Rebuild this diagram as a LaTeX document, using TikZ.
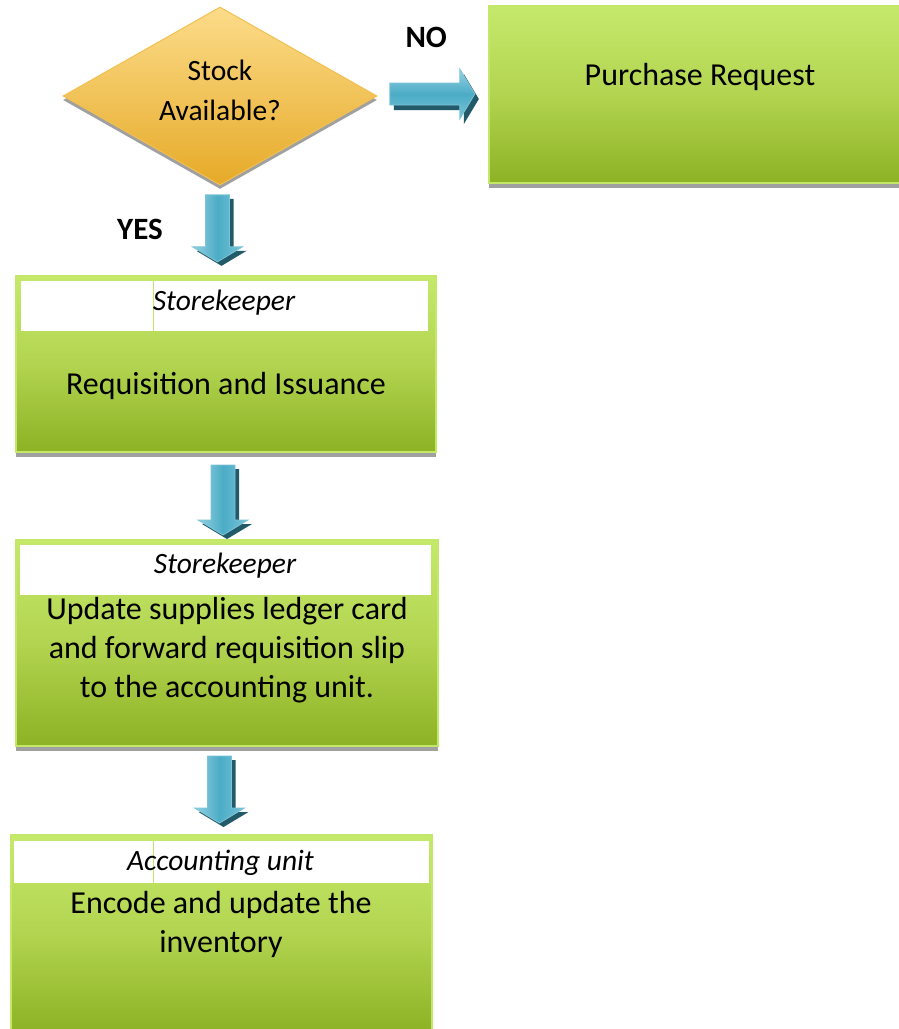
\documentclass[tikz,border=0pt]{standalone}
\usepackage{fontspec}
\setmainfont{Carlito}
\usetikzlibrary{shapes.geometric,shadows,calc}

\definecolor{greentop}{RGB}{197,233,107}
\definecolor{greenmid}{RGB}{178,212,80}
\definecolor{greenbot}{RGB}{141,178,36}
\definecolor{greenedge}{RGB}{195,232,105}
\definecolor{boxshadow}{RGB}{160,160,160}
\definecolor{goldtop}{RGB}{252,220,138}
\definecolor{goldbot}{RGB}{230,170,40}
\definecolor{goldedge}{RGB}{242,192,80}
\definecolor{teallight}{RGB}{150,210,226}
\definecolor{tealmid}{RGB}{75,172,198}
\definecolor{tealedge}{RGB}{125,196,216}
\definecolor{tealshadow}{RGB}{35,90,105}

\tikzset{
  procbox/.style={rectangle, draw=greenedge, line width=1.5pt,
    top color=greentop, bottom color=greenbot, middle color=greenmid,
    inner sep=0pt,
    drop shadow={shadow xshift=0pt, shadow yshift=-5pt, fill=boxshadow, opacity=1}},
  roleband/.style={rectangle, fill=white, inner sep=0pt},
  roletext/.style={font=\itshape\fontsize{29.5}{34}\selectfont, inner sep=0pt},
  steptext/.style={font=\fontsize{32}{39}\selectfont, align=center, inner sep=0pt},
  decision/.style={diamond, aspect=1.76, inner sep=0pt, draw=goldedge, line width=1pt,
    top color=goldtop, bottom color=goldbot,
    drop shadow={shadow xshift=0pt, shadow yshift=-4pt, fill=boxshadow, opacity=1}},
  decisiontext/.style={font=\fontsize{29.5}{40}\selectfont, align=center, inner sep=0pt},
  answer/.style={font=\bfseries\fontsize{31}{36}\selectfont, inner sep=0pt},
  bandline/.style={draw=greenedge, line width=0.8pt},
  blockedge/.style={draw=tealedge, line width=0.8pt},
  % downward block arrow, argument = total length
  pics/flowdown/.style={code={
    \path[fill=tealshadow, shift={(4,-4)}]
      (-12,{#1/2}) -- (-12,{-#1/2+15}) -- (-25,{-#1/2+15}) -- (0,{-#1/2})
      -- (25,{-#1/2+15}) -- (12,{-#1/2+15}) -- (12,{#1/2}) -- cycle;
    \path[blockedge, left color=teallight, right color=teallight!60!tealmid, middle color=tealmid]
      (-12,{#1/2}) -- (-12,{-#1/2+15}) -- (-25,{-#1/2+15}) -- (0,{-#1/2})
      -- (25,{-#1/2+15}) -- (12,{-#1/2+15}) -- (12,{#1/2}) -- cycle;
  }},
  % rightward block arrow, argument = total length
  pics/flowright/.style={code={
    \path[fill=tealshadow, shift={(4,-5)}]
      ({-#1/2},11) -- ({#1/2-15},11) -- ({#1/2-15},25) -- ({#1/2},0)
      -- ({#1/2-15},-25) -- ({#1/2-15},-11) -- ({-#1/2},-11) -- cycle;
    \path[blockedge, top color=teallight, bottom color=teallight!60!tealmid, middle color=tealmid]
      ({-#1/2},11) -- ({#1/2-15},11) -- ({#1/2-15},25) -- ({#1/2},0)
      -- ({#1/2-15},-25) -- ({#1/2-15},-11) -- ({-#1/2},-11) -- cycle;
  }}
}

\begin{document}
\begin{tikzpicture}[x=1pt, y=1pt]
\useasboundingbox (0,0) rectangle (898,-1029);

% decision
\node[decision, minimum width=314pt, minimum height=178pt] (dec) at (220,-96) {};
\node[decisiontext] (dectext) at (220,-90.2) {Stock\\Available?};

% purchase request
\node[procbox, minimum width=411pt, minimum height=177pt] (pr) at (694.5,-94.5) {};
\node[steptext] (prtext) at (700,-77.2) {Purchase Request};

% requisition and issuance
\node[procbox, minimum width=420pt, minimum height=176pt] (req) at (226,-364) {};
\node[roleband, minimum width=407pt, minimum height=50pt] (hdr1) at (224.5,-306) {};
\draw[bandline] (153,0 |- hdr1.north) -- (153,0 |- hdr1.south);
\node[roletext] (role1) at (224,-302.3) {Storekeeper};
\node[steptext] (reqtext) at (226,-385.5) {Requisition and Issuance};

% ledger update
\node[procbox, minimum width=422pt, minimum height=206pt] (upd) at (227,-643) {};
\node[roleband, minimum width=411pt, minimum height=50pt] (hdr2) at (225.5,-570) {};
\node[roletext] (role2) at (225,-565.7) {Storekeeper};
\node[steptext] (updtext) at (227,-650.1) {Update supplies ledger card\\and forward requisition slip\\to the accounting unit.};

% encoding
\node[procbox, minimum width=421pt, minimum height=197pt] (enc) at (221.5,-933.5) {};
\node[roleband, minimum width=415pt, minimum height=42pt] (hdr3) at (221.5,-862) {};
\draw[bandline] (153,0 |- hdr3.north) -- (153,0 |- hdr3.south);
\node[roletext] (role3) at (220.5,-862.8) {Accounting unit};
\node[steptext] (enctext) at (221,-924.5) {Encode and update the\\inventory};

% block arrows between the steps
\coordinate (a0) at ($(dec.east)!0.5!(pr.west)+(-0.5,1.25)$);
\coordinate (a1) at ($(dec.south)!0.5!(req.north)+(-5.5,2)$);
\coordinate (a2) at ($(req.south)!0.5!(upd.north)+(-3.5,-4)$);
\coordinate (a3) at ($(upd.south)!0.5!(enc.north)+(-4.75,1)$);
\pic (flowno) at (a0) {flowright=85};
\pic (flowyes) at (a1) {flowdown=67};
\pic (flowissue) at (a2) {flowdown=70};
\pic (flowpost) at (a3) {flowdown=67};

% branch labels
\node[answer] (no) at (426.2,-37.5) {NO};
\node[answer] (yes) at (140,-229) {YES};
\end{tikzpicture}
\end{document}
